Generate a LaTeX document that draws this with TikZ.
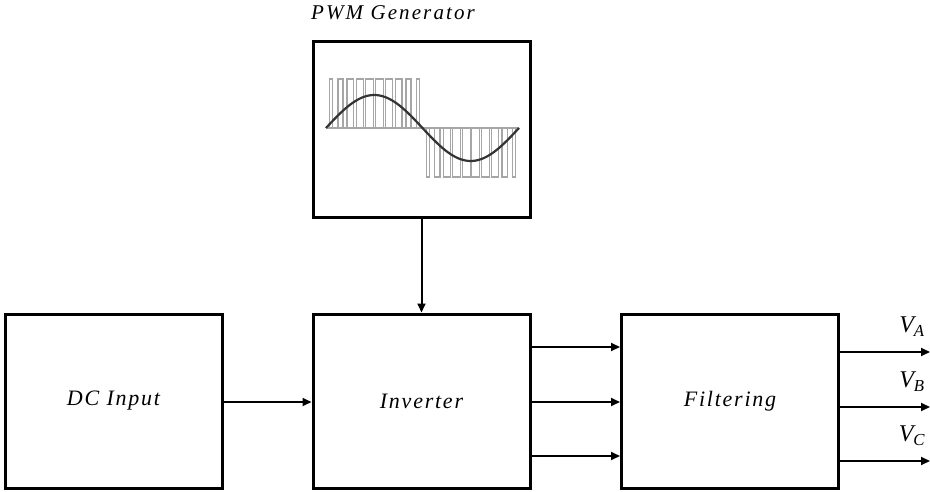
\documentclass[tikz,border=0pt]{standalone}
\usepackage{fontspec}
\usetikzlibrary{arrows.meta}
\newfontfamily\lblfont[LetterSpace=8]{Liberation Serif}
\newfontfamily\ttlfont[LetterSpace=10]{Liberation Serif}
\begin{document}
\begin{tikzpicture}[x=1pt,y=-1pt,
  blk/.style={draw=black,line width=3pt,minimum width=217pt,minimum height=174pt,inner sep=0pt},
  conn/.style={line width=2pt,-{Triangle[length=9pt,width=8pt]}},
  lbl/.style={font=\lblfont\itshape\fontsize{22}{26}\selectfont},
  vlbl/.style={font=\lblfont\itshape\fontsize{24}{28}\selectfont},
  pulse/.style={draw=gray!70,line width=1.2pt}]
\useasboundingbox (0,0) rectangle (930,492);
\node[blk] (dc) at (113.5,401) {};
\node[lbl] at (dc.center) {DC Input};
\node[blk] (inv) at (421.5,401) {};
\node[lbl] at (inv.center) {Inverter};
\node[blk] (filt) at (730,401) {};
\node[lbl] at (filt.center) {Filtering};
\node[draw=black,line width=3pt,minimum width=217pt,minimum height=176pt,inner sep=0pt] (pwm) at (421.5,130) {};
\node[font=\ttlfont\itshape\fontsize{21}{25}\selectfont] (pwmlbl) at (393,13) {PWM Generator};
% PWM waveform
\begin{scope}
  \foreach \i in {0,...,9}{
    \pgfmathsetmacro{\c}{326+(\i+0.5)*9.7}
    \pgfmathsetmacro{\w}{9.7*(0.25+0.6*sin((\i+0.5)*18))}
    \draw[pulse] (\c-\w/2,128) -- (\c-\w/2,79) -- (\c+\w/2,79) -- (\c+\w/2,128);
    \pgfmathsetmacro{\d}{423+(\i+0.5)*9.6}
    \draw[pulse] (\d-\w/2,128) -- (\d-\w/2,177) -- (\d+\w/2,177) -- (\d+\w/2,128);
  }
  \draw[pulse] (326,128) -- (519,128);
  \draw[line width=2.2pt,black!80,domain=0:360,samples=80,smooth] plot ({326+\x/360*193},{128-33*sin(\x)});
\end{scope}
% connectors
\draw[conn] (dc.east |- 0,402) -- (inv.west |- 0,402);
\draw[conn] (pwm.south) -- (inv.north);
\foreach \yy in {347,402,456}{
  \draw[conn] (inv.east |- 0,\yy) -- (filt.west |- 0,\yy);
}
\coordinate (oA) at (930,352);
\coordinate (oB) at (930,407);
\coordinate (oC) at (930,461);
\draw[conn] (filt.east |- oA) -- (oA);
\draw[conn] (filt.east |- oB) -- (oB);
\draw[conn] (filt.east |- oC) -- (oC);
\node[vlbl] at (912,327) {V\textsubscript{A}};
\node[vlbl] at (912,382) {V\textsubscript{B}};
\node[vlbl] at (912,436) {V\textsubscript{C}};
\end{tikzpicture}
\end{document}
